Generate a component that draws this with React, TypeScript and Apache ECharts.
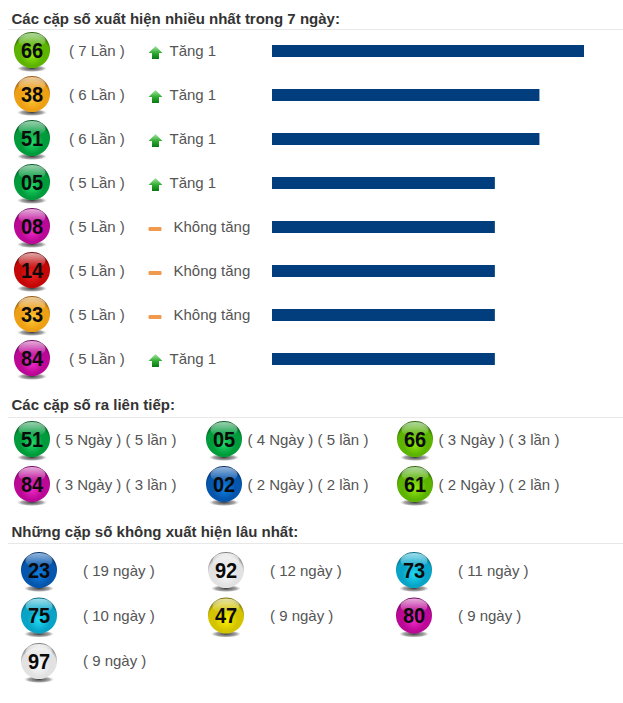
import React, { useEffect, useRef } from "react";
import * as echarts from "echarts";

const W = 623, H = 703;
const FONT = "'Liberation Sans', Arial, sans-serif";

const topNumbers = ["66", "38", "51", "05", "08", "14", "33", "84"];
const topCounts = [7, 6, 6, 5, 5, 5, 5, 5];
const topTrend = ["Tăng 1", "Tăng 1", "Tăng 1", "Tăng 1", "Không tăng", "Không tăng", "Không tăng", "Tăng 1"];
const topColors = ["lime", "orange", "green", "green", "magenta", "red", "orange", "magenta"];

const streakNumbers = ["51", "05", "66", "84", "02", "61"];
const streakDays = [5, 4, 3, 3, 2, 2];
const streakTimes = [5, 5, 3, 3, 2, 2];
const streakColors = ["green", "green", "lime", "magenta", "blue", "lime"];

const absentNumbers = ["23", "92", "73", "75", "47", "80", "97"];
const absentDays = [19, 12, 11, 10, 9, 9, 9];
const absentColors = ["blue", "silver", "cyan", "cyan", "yellow", "magenta", "silver"];

const headings = [
  "Các cặp số xuất hiện nhiều nhất trong 7 ngày:",
  "Các cặp số ra liên tiếp:",
  "Những cặp số không xuất hiện lâu nhất:",
];

const palette: Record<string, [string, string, string, string]> = {
  // top tint, body, lower glow, rim
  lime: ["#b4dca0", "#5cb400", "#94ea14", "#2a6400"],
  green: ["#9cd4b0", "#009c3c", "#22dc68", "#005c24"],
  orange: ["#eed0a4", "#eea014", "#ffca34", "#965808"],
  magenta: ["#eaaede", "#bc0896", "#f22ccc", "#740662"],
  red: ["#e4aaaa", "#c40808", "#f22020", "#700404"],
  blue: ["#94b8e0", "#0556ac", "#1080e4", "#043068"],
  cyan: ["#a0e2f0", "#08a4c8", "#20dcf6", "#066a84"],
  yellow: ["#eae6a8", "#d4c400", "#fff200", "#787000"],
  silver: ["#f6f6f6", "#e2e2e2", "#fbfbfb", "#7c7c7c"],
};

function ball(cx: number, cy: number, num: string, color: string) {
  const p = palette[color];
  const r = 18;
  return [
    {
      type: "ellipse", silent: true,
      shape: { cx, cy: cy + 18.5, rx: 15, ry: 3.5 },
      style: {
        fill: new echarts.graphic.RadialGradient(0.5, 0.5, 0.5, [
          { offset: 0, color: "rgba(30,30,30,0.85)" },
          { offset: 0.7, color: "rgba(60,60,60,0.45)" },
          { offset: 1, color: "rgba(120,120,120,0)" },
        ]),
      },
    },
    {
      type: "circle", silent: true,
      shape: { cx, cy, r },
      style: {
        fill: new echarts.graphic.RadialGradient(0.5, 0.62, 0.58, [
          { offset: 0, color: p[2] },
          { offset: 0.55, color: p[1] },
          { offset: 0.84, color: p[1] },
          { offset: 1, color: p[3] },
        ]),
      },
    },
    {
      type: "ellipse", silent: true,
      shape: { cx, cy: cy - 9.5, rx: 13.5, ry: 7.5 },
      style: {
        fill: new echarts.graphic.LinearGradient(0, 0, 0, 1, [
          { offset: 0, color: p[0] },
          { offset: 1, color: p[0] + "00" },
        ]),
      },
    },
    {
      type: "text", silent: true, x: cx, y: cy, scaleY: 1.06,
      style: {
        text: num, fill: "#0a0a0a", font: `bold 20px ${FONT}`,
        align: "center", verticalAlign: "middle",
      },
    },
  ];
}

function label(x: number, y: number, text: string) {
  return {
    type: "text", silent: true, x, y,
    style: { text, fill: "#555555", font: `15px ${FONT}`, align: "left", verticalAlign: "middle" },
  };
}

function heading(y: number, lineY: number, text: string) {
  return [
    {
      type: "text", silent: true, x: 11.5, y,
      style: { text, fill: "#333333", font: `bold 15px ${FONT}`, align: "left", verticalAlign: "middle" },
    },
    {
      type: "line", silent: true,
      shape: { x1: 8, y1: lineY + 0.5, x2: 623, y2: lineY + 0.5 },
      style: { stroke: "#e8e8e8", lineWidth: 1 },
    },
  ];
}

function arrow(cx: number, cy: number) {
  return {
    type: "polygon", silent: true,
    shape: {
      points: [
        [cx, cy - 7], [cx + 7, cy], [cx + 3.5, cy], [cx + 3.5, cy + 6],
        [cx - 3.5, cy + 6], [cx - 3.5, cy], [cx - 7, cy],
      ],
    },
    style: {
      fill: new echarts.graphic.LinearGradient(0, 0, 0, 1, [
        { offset: 0, color: "#a4e6a4" },
        { offset: 0.55, color: "#2faa2f" },
        { offset: 1, color: "#0a7a14" },
      ]),
    },
  };
}

function dash(cx: number, cy: number) {
  return {
    type: "rect", silent: true,
    shape: { x: cx - 6.5, y: cy - 2, width: 13, height: 4, r: 1 },
    style: { fill: "#f09a50" },
  };
}

export default function App() {
  const ref = useRef<HTMLDivElement>(null);
  useEffect(() => {
    const chart = echarts.init(ref.current!, undefined, { renderer: "svg" });
    const elements: any[] = [];
    elements.push(...heading(18, 29, headings[0]));
    elements.push(...heading(404, 417, headings[1]));
    elements.push(...heading(531, 543, headings[2]));

    topNumbers.forEach((n, i) => {
      const cy = 51 + i * 44;
      elements.push(...ball(32, cy - 1, n, topColors[i]));
      elements.push(label(69, cy - 1, `( ${topCounts[i]} Lần )`));
      if (topTrend[i] === "Tăng 1") {
        elements.push(arrow(155.5, cy + 2));
        elements.push(label(169.5, cy - 1, topTrend[i]));
      } else {
        elements.push(dash(155, cy + 2));
        elements.push(label(173.5, cy - 1, topTrend[i]));
      }
    });

    const streakX = [32, 224, 415];
    streakNumbers.forEach((n, i) => {
      const col = i % 3, row = Math.floor(i / 3);
      const cy = 439 + row * 45;
      elements.push(...ball(streakX[col], cy, n, streakColors[i]));
      elements.push(label(streakX[col] + 23.5, cy, `( ${streakDays[i]} Ngày ) ( ${streakTimes[i]} lần )`));
    });

    const absentX = [39, 226, 414];
    absentNumbers.forEach((n, i) => {
      const col = i % 3, row = Math.floor(i / 3);
      const cy = 570 + row * 45.5;
      elements.push(...ball(absentX[col], cy, n, absentColors[i]));
      elements.push(label(absentX[col] + 44, 570.5 + row * 45, `( ${absentDays[i]} ngày )`));
    });

    chart.setOption({
      animation: false,
      backgroundColor: "#ffffff",
      grid: { left: 272, top: 29, width: 312, height: 352, containLabel: false },
      xAxis: { type: "value", min: 0, max: 7, show: false },
      yAxis: { type: "category", data: topNumbers, inverse: true, show: false },
      series: [
        {
          type: "bar", data: topCounts, barWidth: 12, silent: true,
          itemStyle: { color: "#023e7d" },
        },
      ],
      graphic: { elements },
    });
    return () => chart.dispose();
  }, []);
  return <div ref={ref} style={{ position: "absolute", left: 0, top: 0, width: W, height: H }} />;
}
